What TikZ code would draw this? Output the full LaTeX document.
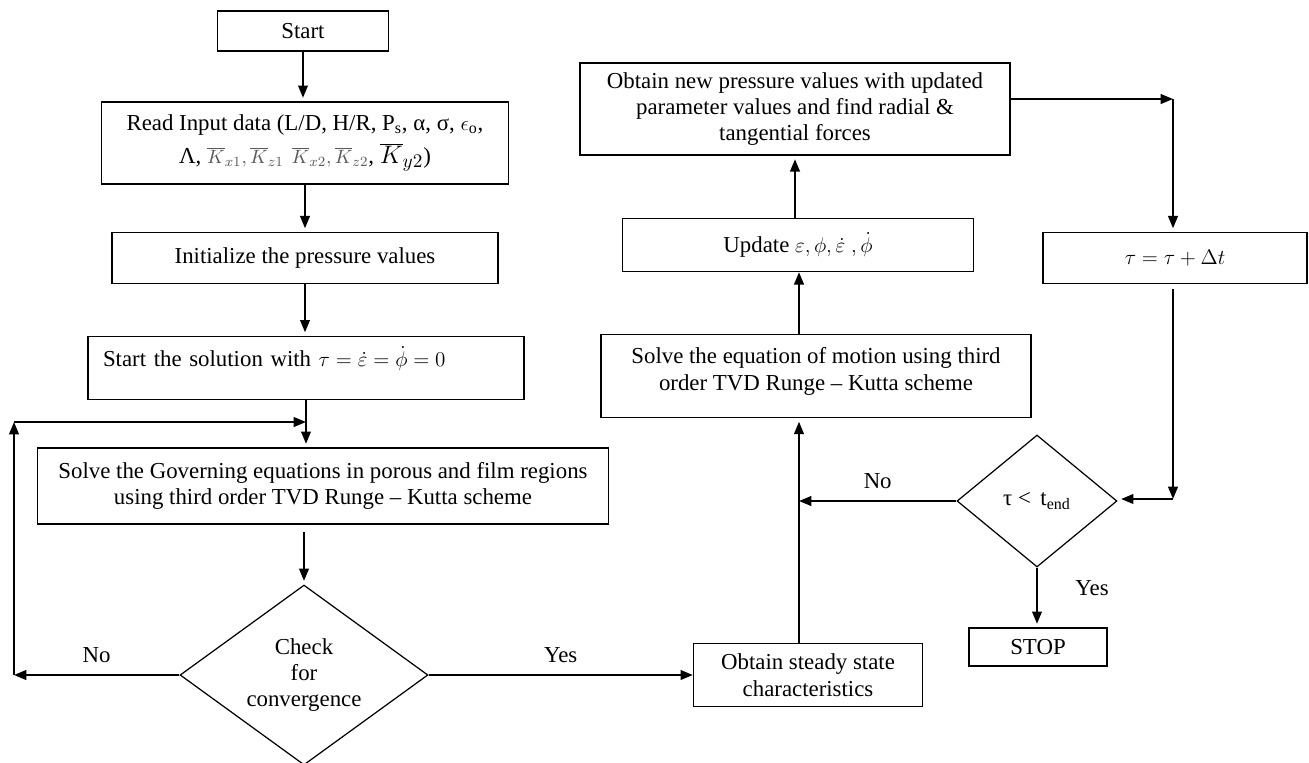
\documentclass[tikz,border=0pt]{standalone}
\usepackage{fontspec}
\setmainfont{Liberation Serif}
\usetikzlibrary{arrows.meta,shapes.geometric,positioning}

\begin{document}
\begin{tikzpicture}[x=0.02cm,y=-0.02cm,
		every node/.style={font=\fontsize{13}{15}\selectfont},
		box/.style={draw,line width=0.8pt,rectangle,align=center},
		decision/.style={draw,line width=0.7pt,diamond,inner sep=0pt,align=center},
		flow/.style={line width=1.1pt,-{Triangle[length=7pt,width=5.5pt]},shorten >=2pt}]
		\useasboundingbox (0,0) rectangle (1309,762);
		% left column
		\node[box,minimum width=3.42cm,minimum height=0.8cm] (start) at (303,31) {Start};
		\node[box,minimum width=8.14cm,minimum height=1.64cm] (read) at (305,143)
			{Read Input data (L/D, H/R, P\textsubscript{s}, α, σ, $\epsilon_{\mathrm{o}}$,\\[4pt]
			Λ, {\color{black!65}\fontsize{11}{15}\selectfont$\overline{K}_{x1},\overline{K}_{z1}$\, $\overline{K}_{x2},\overline{K}_{z2}$}, {\fontsize{15}{15}\selectfont$\overline{K}_{y2}$})};
		\node[box,minimum width=7.72cm,minimum height=1.02cm] (init) at (305,258) {Initialize the pressure values};
		\node[box,minimum width=8.72cm,minimum height=1.26cm,text width=8.12cm,align=left,text depth=13pt] (sol) at (306,368)
			{Start the solution with $\tau = \dot{\varepsilon} = \dot{\phi} = 0$};
		\node[box,minimum width=11.42cm,minimum height=1.52cm] (gov) at (323,486)
			{Solve the Governing equations in porous and film regions\\ using third order TVD Runge -- Kutta scheme};
		\node[decision,minimum width=4.96cm,minimum height=3.6cm,aspect=1.4] (conv) at (304,675) {Check\\ for\\ convergence};
		% middle column
		\node[box,minimum width=4.58cm,minimum height=1.26cm] (steady) at (808,675) {Obtain steady state\\ characteristics};
		\node[box,minimum width=8.6cm,minimum height=1.66cm,text depth=8pt] (motion) at (816,376)
			{Solve the equation of motion using third\\ order TVD Runge -- Kutta scheme};
		\node[box,minimum width=7.02cm,minimum height=1.06cm] (update) at (798,245)
			{Update $\varepsilon, \phi, \dot{\varepsilon}\;, \dot{\phi}$};
		\node[box,minimum width=8.6cm,minimum height=1.84cm] (newp) at (795,109)
			{Obtain new pressure values with updated\\ parameter values and find radial \&\\ tangential forces};
		% right column
		\node[box,minimum width=5.28cm,minimum height=1.02cm] (tau) at (1175,258) {$\tau = \tau + \Delta t$};
		\node[decision,minimum width=3.2cm,minimum height=2.64cm,aspect=1.2] (tend) at (1037,501) {τ <\, t\textsubscript{end}};
		\node[box,minimum width=2.76cm,minimum height=0.76cm] (stop) at (1038,647) {STOP};

		\coordinate (loopbl) at (14,675);
		\coordinate (looptl) at (14,422);
		\coordinate (upx) at (799,0);
		\coordinate (rtop) at (1173,99);
		\coordinate (rlow) at (1173,499);

		\draw[flow] (start.south) -- (start.south |- read.north);
		\draw[flow] (read.south) -- (read.south |- init.north);
		\draw[flow] (init.south) -- (init.south |- sol.north);
		\draw[flow] (sol.south) -- (sol.south |- gov.north);
		\draw[flow] ([yshift=-4pt]gov.south -| conv.north) -- (conv.north);
		\draw[flow,shorten >=0pt] (conv.west) -- (loopbl) node[midway,above=3pt] {No};
		\draw[flow,shorten >=0pt] (loopbl) -- (looptl);
		\draw[flow,shorten >=0pt] (looptl) -- (looptl -| sol.south);
		\draw[flow,shorten >=0pt] (conv.east) -- (steady.west) node[midway,above=3pt] {Yes};
		\draw[flow] (steady.north -| upx) -- (motion.south -| upx);
		\draw[flow,shorten >=0pt] (motion.north -| upx) -- (update.south -| upx);
		\draw[flow] (update.north -| newp.south) -- (newp.south);
		\draw[flow,shorten >=0pt] (newp.east |- rtop) -- (rtop);
		\draw[flow] (rtop) -- (rtop |- tau.north);
		\draw[flow,shorten >=0pt,shorten <=3pt] (tau.south -| rlow) -- (rlow);
		\draw[flow] (rlow) -- (rlow -| tend.east);
		\draw[flow,shorten >=0pt] (tend.west) -- (tend.west -| upx) node[midway,above=3pt] {No};
		\draw[flow] (tend.south) -- (tend.south |- stop.north) node[pos=0.35,right=18pt] {Yes};
	\end{tikzpicture}
\end{document}
